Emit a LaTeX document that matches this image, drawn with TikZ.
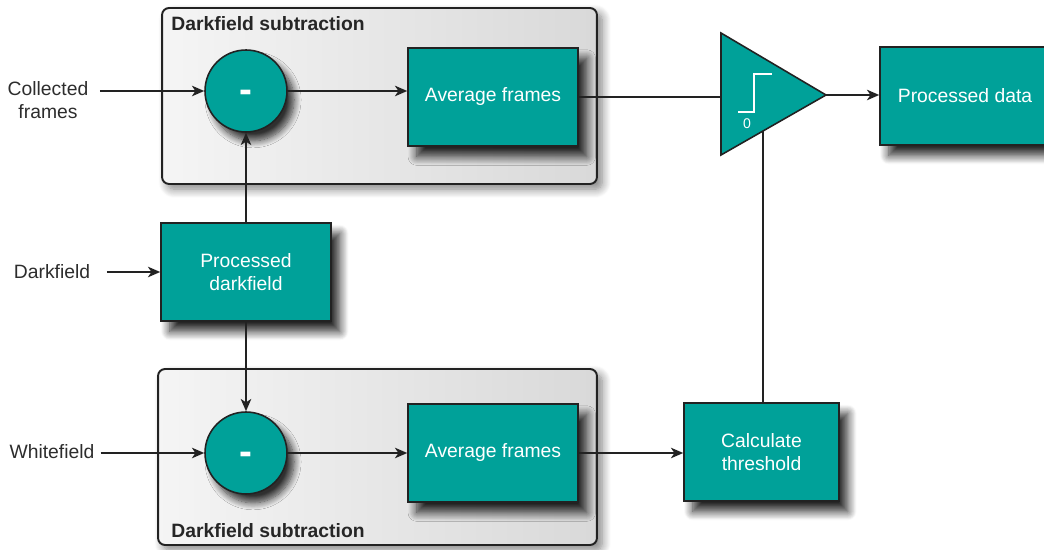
\documentclass[tikz,border=0pt]{standalone}
\usepackage{fontspec}
\setmainfont{Liberation Sans}
\usetikzlibrary{arrows.meta,shadows.blur}
\definecolor{tealbox}{RGB}{0,161,153}
\definecolor{linecol}{RGB}{34,34,34}
\definecolor{labelcol}{RGB}{45,45,45}

\begin{document}
\begin{tikzpicture}[
  x=0.02cm, y=0.02cm,
  block/.style={
    draw=linecol,
    line width=0.9pt,
    fill=tealbox,
    text=white,
    minimum width=3.4cm,
    minimum height=1.96cm,
    align=center,
    font=\fontsize{11}{13.5}\selectfont,
    blur shadow={shadow xshift=5pt, shadow yshift=-6pt, shadow blur radius=5pt, shadow blur steps=10, shadow opacity=85}
  },
  subtr/.style={
    circle,
    draw=linecol,
    line width=0.9pt,
    fill=tealbox,
    text=white,
    minimum size=1.64cm,
    text height=0.7em,
    text depth=0pt,
    font=\fontsize{22}{22}\selectfont\bfseries,
    blur shadow={shadow xshift=4pt, shadow yshift=-5pt, shadow blur radius=4pt, shadow blur steps=10, shadow opacity=80}
  },
  group/.style={
    draw=linecol,
    line width=1.1pt,
    rounded corners=4pt,
    left color=gray!8,
    right color=gray!30,
    minimum width=#1,
    minimum height=3.52cm,
    blur shadow={shadow xshift=3pt, shadow yshift=-3pt, shadow blur radius=5pt, shadow blur steps=10, shadow opacity=50}
  },
  grouptitle/.style={anchor=west, inner sep=0pt, text=black!85, font=\fontsize{11}{13}\selectfont\bfseries},
  inlabel/.style={text=labelcol, align=center, font=\fontsize{11}{13.5}\selectfont},
  flow/.style={draw=linecol, line width=0.9pt, -{Stealth[length=7pt, width=6pt, inset=2pt]}},
  wire/.style={draw=linecol, line width=0.9pt}
]
\useasboundingbox (0,-550) rectangle (1044,0);

% -------- Group boxes --------
\node[group=8.7cm]  (gtop) at (379.5, -96) {};
\node[group=8.78cm] (gbot) at (377.5, -457) {};
\node[grouptitle] at (171, -24)  {Darkfield subtraction};
\node[grouptitle] at (171, -531) {Darkfield subtraction};

% -------- Blocks --------
\node[subtr] (sub1) at (246, -91)  {\raisebox{-2.8pt}{-}};
\node[block] (avg1) at (493, -97)  {Average frames};
\node[block] (dark) at (246, -272) {Processed\\darkfield};
\node[subtr] (sub2) at (246, -453) {\raisebox{-2.8pt}{-}};
\node[block] (avg2) at (493, -453) {Average frames};
\node[block, minimum width=3.1cm] (calc) at (761.5, -452) {Calculate\\threshold};
\node[block] (out)  at (965, -96)  {Processed data};

% -------- Threshold --------
\draw[draw=linecol, line width=0.9pt, fill=tealbox] (721,-33) -- (721,-155) -- (826,-95) -- cycle;
\draw[white, line width=0.6pt] (738,-112) -- (754,-112) -- (754,-74) -- (772,-74);
\node[text=white, font=\fontsize{8}{8}\selectfont] (zero) at (747,-124) {0};
\coordinate (thrin)   at (721,-97);
\coordinate (throut)  at (826,-95);
\coordinate (thrbase) at (763,-131);

% -------- Inputs --------
\node[inlabel] (coll)  at (48, -100) {Collected\\frames};
\node[inlabel] (dfin)  at (52, -272) {Darkfield};
\node[inlabel] (wfin)  at (52, -452) {Whitefield};

% -------- Arrows --------
\draw[flow, shorten <=3pt] (coll.east |- sub1.west) -- (sub1.west);
\draw[flow, shorten <=6pt] (dfin.east |- dark.west) -- (dark.west);
\draw[flow] (wfin.east |- sub2.west) -- (sub2.west);
\draw[flow] (dark.north) -- (sub1.south);
\draw[flow] (dark.south) -- (sub2.north);
\draw[flow] (sub1.east) -- (sub1.east -| avg1.west);
\draw[flow] (sub2.east) -- (avg2.west);
\draw[flow] (avg2.east) -- (avg2.east -| calc.west);
\draw[wire] (avg1.east) -- (thrin);
\draw[flow] (throut) -- (throut -| out.west);
\draw[wire] (calc.north -| thrbase) -- (thrbase);

\end{tikzpicture}
\end{document}
